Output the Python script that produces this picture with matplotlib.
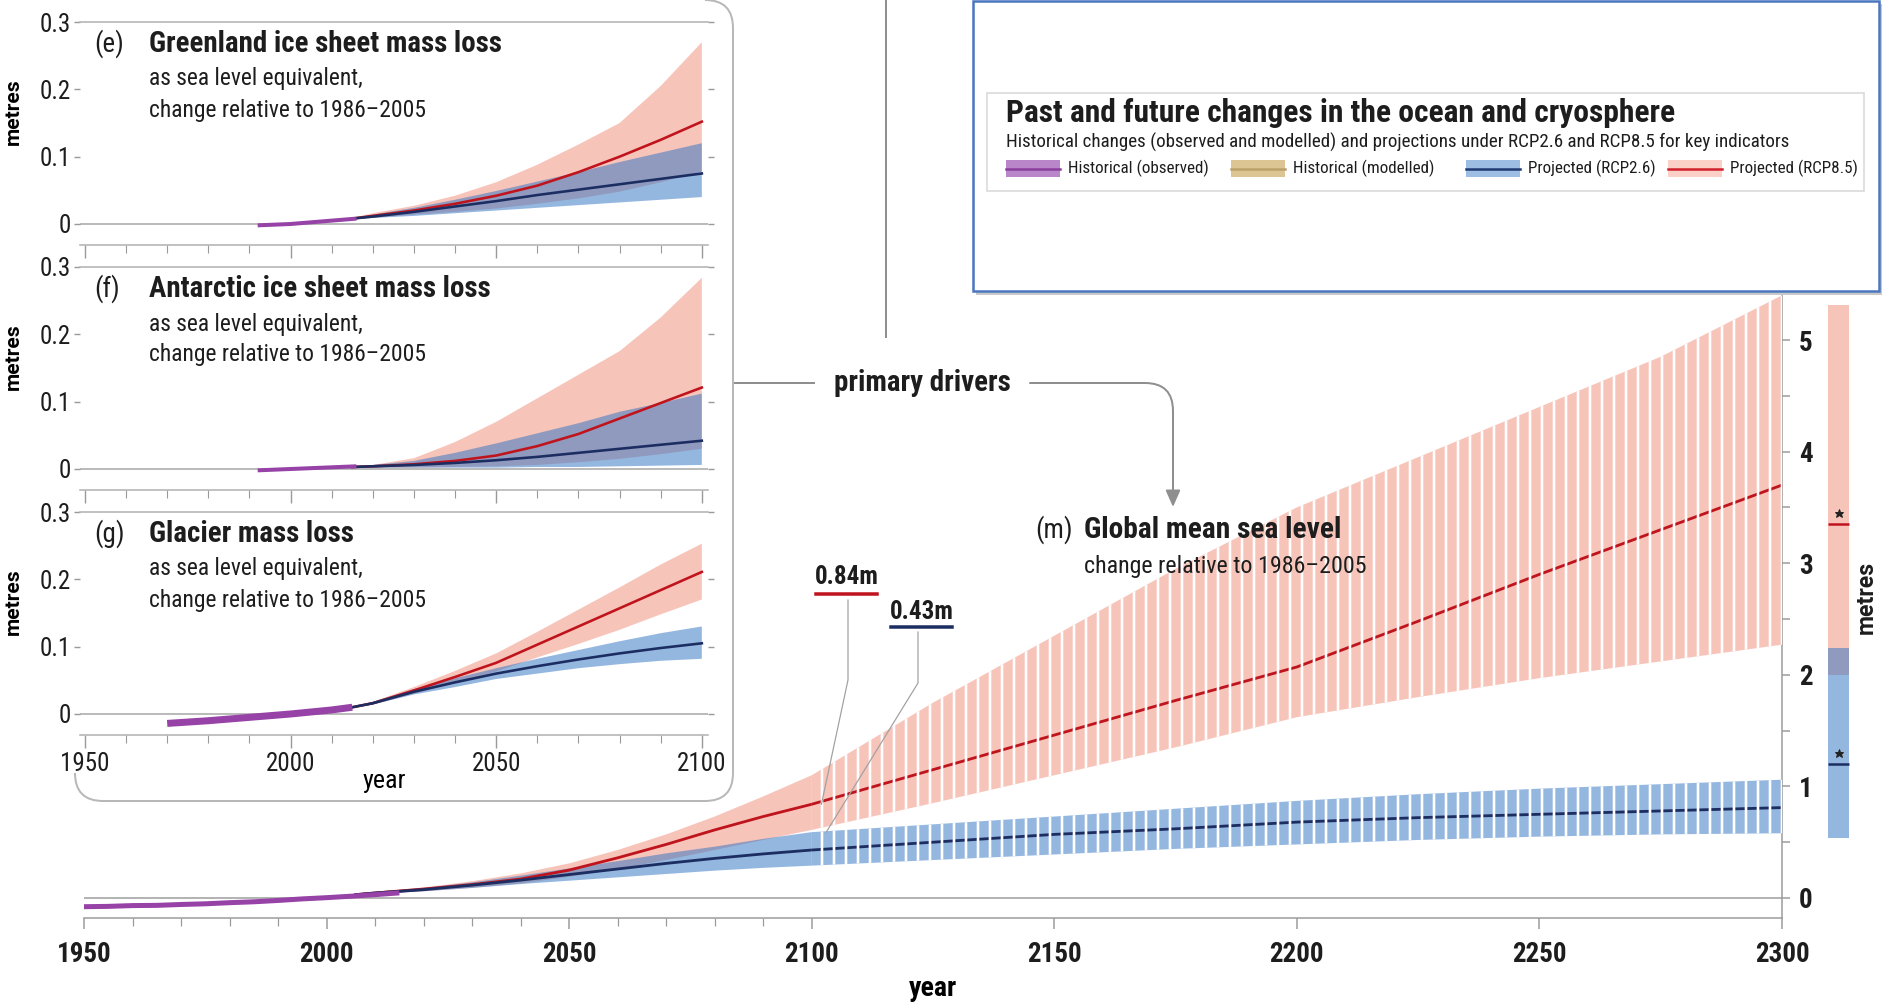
"""Sea level rise drivers and global mean sea level projections (RCP2.6 / RCP8.5)."""

import numpy as np
import matplotlib

matplotlib.use("Agg")
import matplotlib.pyplot as plt
from matplotlib import font_manager
from matplotlib.lines import Line2D
from matplotlib.patches import FancyArrowPatch, PathPatch, Rectangle
from matplotlib.path import Path
from matplotlib.ticker import FixedLocator, FuncFormatter
from matplotlib.transforms import IdentityTransform

W, H = 1883, 1006
DPI = 72  # 1 pt == 1 px, so sizes below are in pixels

# ---------------------------------------------------------------- data (metres)
# Insets (e)-(g): sea level equivalent of mass loss, change relative to 1986-2005
INSET_YEARS = [2015, 2020, 2030, 2040, 2050, 2060, 2070, 2080, 2090, 2100]

GREENLAND_OBS_YEARS = [1992, 2000, 2008, 2016]
GREENLAND_OBS = [-0.002, 0.0, 0.004, 0.008]
GREENLAND_R85 = [0.008, 0.012, 0.020, 0.030, 0.042, 0.057, 0.077, 0.100, 0.125, 0.152]
GREENLAND_R85_LO = [0.007, 0.009, 0.014, 0.018, 0.023, 0.030, 0.038, 0.048, 0.062, 0.078]
GREENLAND_R85_HI = [0.009, 0.016, 0.027, 0.042, 0.062, 0.088, 0.118, 0.150, 0.205, 0.270]
GREENLAND_R26 = [0.008, 0.011, 0.018, 0.026, 0.034, 0.043, 0.051, 0.059, 0.067, 0.075]
GREENLAND_R26_LO = [0.007, 0.009, 0.012, 0.016, 0.020, 0.024, 0.028, 0.032, 0.036, 0.040]
GREENLAND_R26_HI = [0.009, 0.014, 0.024, 0.036, 0.049, 0.063, 0.077, 0.092, 0.106, 0.120]

ANTARCTIC_OBS_YEARS = [1992, 2000, 2008, 2016]
ANTARCTIC_OBS = [-0.002, 0.0, 0.002, 0.004]
ANTARCTIC_R85 = [0.003, 0.004, 0.007, 0.012, 0.020, 0.034, 0.052, 0.075, 0.098, 0.121]
ANTARCTIC_R85_LO = [0.002, 0.002, 0.002, 0.003, 0.004, 0.006, 0.010, 0.015, 0.022, 0.030]
ANTARCTIC_R85_HI = [0.004, 0.006, 0.016, 0.040, 0.070, 0.105, 0.140, 0.175, 0.225, 0.284]
ANTARCTIC_R26 = [0.003, 0.004, 0.006, 0.009, 0.013, 0.018, 0.024, 0.030, 0.036, 0.042]
ANTARCTIC_R26_LO = [0.002, 0.002, 0.002, 0.002, 0.002, 0.003, 0.003, 0.004, 0.005, 0.006]
ANTARCTIC_R26_HI = [0.004, 0.006, 0.012, 0.024, 0.038, 0.053, 0.068, 0.085, 0.098, 0.112]

GLACIER_OBS_YEARS = [1970, 1980, 1990, 2000, 2010, 2015]
GLACIER_OBS = [-0.014, -0.010, -0.005, 0.0, 0.006, 0.010]
GLACIER_R85 = [0.010, 0.016, 0.035, 0.055, 0.076, 0.103, 0.130, 0.157, 0.184, 0.211]
GLACIER_R85_LO = [0.009, 0.014, 0.030, 0.046, 0.063, 0.084, 0.104, 0.125, 0.148, 0.170]
GLACIER_R85_HI = [0.011, 0.018, 0.040, 0.064, 0.090, 0.122, 0.155, 0.188, 0.222, 0.253]
GLACIER_R26 = [0.010, 0.016, 0.033, 0.047, 0.060, 0.071, 0.081, 0.090, 0.098, 0.105]
GLACIER_R26_LO = [0.009, 0.014, 0.029, 0.040, 0.052, 0.060, 0.068, 0.074, 0.079, 0.082]
GLACIER_R26_HI = [0.011, 0.018, 0.037, 0.053, 0.068, 0.082, 0.095, 0.108, 0.120, 0.130]

# Panel (m): global mean sea level
GMSL_OBS_YEARS = [1950, 1955, 1960, 1965, 1970, 1975, 1980, 1985, 1990, 1995, 2000, 2005, 2010, 2015]
GMSL_OBS = [-0.078, -0.075, -0.068, -0.066, -0.058, -0.052, -0.042, -0.034, -0.022, -0.008,
            0.003, 0.016, 0.030, 0.046]
GMSL_YEARS = [2006, 2010, 2020, 2030, 2040, 2050, 2060, 2070, 2080, 2090, 2100,
              2125, 2150, 2175, 2200, 2225, 2250, 2275, 2300]
GMSL_R85 = [0.03, 0.045, 0.08, 0.12, 0.17, 0.25, 0.36, 0.48, 0.61, 0.73, 0.84,
            1.15, 1.46, 1.77, 2.07, 2.48, 2.90, 3.30, 3.70]
GMSL_R85_LO = [0.02, 0.035, 0.06, 0.09, 0.13, 0.19, 0.26, 0.34, 0.43, 0.52, 0.61,
               0.85, 1.10, 1.35, 1.62, 1.80, 1.97, 2.12, 2.27]
GMSL_R85_HI = [0.04, 0.055, 0.095, 0.15, 0.22, 0.31, 0.43, 0.57, 0.73, 0.91, 1.10,
               1.75, 2.35, 2.95, 3.50, 3.95, 4.40, 4.85, 5.40]
GMSL_R26 = [0.03, 0.045, 0.075, 0.115, 0.16, 0.21, 0.26, 0.31, 0.355, 0.395, 0.43,
            0.50, 0.57, 0.62, 0.68, 0.72, 0.75, 0.78, 0.81]
GMSL_R26_LO = [0.02, 0.035, 0.06, 0.09, 0.125, 0.155, 0.185, 0.215, 0.245, 0.27, 0.29,
               0.34, 0.39, 0.44, 0.48, 0.52, 0.55, 0.57, 0.58]
GMSL_R26_HI = [0.04, 0.055, 0.09, 0.14, 0.20, 0.265, 0.33, 0.40, 0.46, 0.53, 0.59,
               0.66, 0.73, 0.80, 0.87, 0.93, 0.98, 1.02, 1.06]
BARS_FROM = 2100  # later years are drawn as a barred (hatched) band

# 2300 ranges shown in the side bar
SIDE_R85_RANGE = (2.0, 5.31)
SIDE_R26_RANGE = (0.54, 2.24)
SIDE_R85_MARK = 3.35
SIDE_R26_MARK = 1.20

LABEL_R85_2100 = 0.84
LABEL_R26_2100 = 0.43

INSET_LETTERS = ["(e)", "(f)", "(g)"]
INSET_TITLES = ["Greenland ice sheet mass loss", "Antarctic ice sheet mass loss", "Glacier mass loss"]
INSET_SUB = ["as sea level equivalent,", "change relative to 1986\u20132005"]

LEGEND_LABELS = ["Historical (observed)", "Historical (modelled)", "Projected (RCP2.6)", "Projected (RCP8.5)"]
LEGEND_FILLS = ["#b987c9", "#dcc593", "#9dbde3", "#fbd0c7"]
LEGEND_LINES = ["#8d3f9e", "#bca06a", "#1f3a73", "#d0202c"]

# ---------------------------------------------------------------- style
PINK = (0.94, 0.52, 0.44, 0.48)
SKY = (0.20, 0.46, 0.77, 0.52)
RED = "#c0141d"
NAVY = "#1c2d62"
PURPLE = "#9642a6"
AXIS_GREY = "#9a9a9a"
ZERO_GREY = "#b4b4b4"
TEXT = "#1d1d1d"

_names = {f.name for f in font_manager.fontManager.ttflist}
FONT = next((n for n in ("Roboto Condensed", "Liberation Sans Narrow", "DejaVu Sans Condensed")
             if n in _names), "Liberation Sans")
FS = {"Roboto Condensed": 1.0, "Liberation Sans Narrow": 1.05}.get(FONT, 0.86)
WIDE = ["Roboto", "Lato", "DejaVu Sans"]  # normal-width face for the 'metres' labels
plt.rcParams["font.family"] = [FONT, "DejaVu Sans"]
plt.rcParams["hatch.linewidth"] = 2.6
plt.rcParams["hatch.color"] = "white"
plt.rcParams["text.color"] = TEXT
plt.rcParams["xtick.color"] = AXIS_GREY
plt.rcParams["ytick.color"] = AXIS_GREY
plt.rcParams["xtick.labelcolor"] = TEXT
plt.rcParams["ytick.labelcolor"] = TEXT


def fx(x):
    return x / W


def fy(y):
    return 1 - y / H


def dp(x, y):
    """Top-left pixel position -> display coordinates."""
    return (x, H - y)


fig = plt.figure(figsize=(W / DPI, H / DPI), dpi=DPI)
fig.patch.set_facecolor("white")

# ---------------------------------------------------------------- panel (m)
M_LEFT, M_RIGHT, M_TOP, M_BOT, M_ZERO, M_PX = 84, 1782, 292, 918, 898, 111.6
ax = fig.add_axes([fx(M_LEFT), fy(M_BOT), (M_RIGHT - M_LEFT) / W, (M_BOT - M_TOP) / H])
ax.patch.set_alpha(0)
ax.set_xlim(1950, 2300)
ax.set_ylim(-(M_BOT - M_ZERO) / M_PX, (M_ZERO - M_TOP) / M_PX)

yrs = np.array(GMSL_YEARS)
post = yrs >= BARS_FROM
bands = [
    (np.array(GMSL_R85_LO), np.array(GMSL_R85_HI), PINK),
    (np.array(GMSL_R26_LO), np.array(GMSL_R26_HI), SKY),
]
for lo, hi, col in bands:
    ax.fill_between(yrs, lo, hi, facecolor=col, linewidth=0, zorder=1)
ax.plot(yrs, GMSL_R85, color=RED, lw=2.8, zorder=2)
ax.plot(yrs, GMSL_R26, color=NAVY, lw=2.8, zorder=2)
for lo, hi, _ in bands:
    ax.fill_between(yrs[post], lo[post], hi[post], facecolor=(1, 1, 1, 0), edgecolor="white",
                    hatch="|", linewidth=0, zorder=3)
ax.plot(GMSL_OBS_YEARS, GMSL_OBS, color=PURPLE, lw=5, solid_capstyle="butt", zorder=4)
ax.axhline(0, color=ZERO_GREY, lw=2, zorder=0.5)

for s in ("left", "top"):
    ax.spines[s].set_visible(False)
for s in ("bottom", "right"):
    ax.spines[s].set_color(AXIS_GREY)
    ax.spines[s].set_linewidth(1.5)

ax.xaxis.set_major_locator(FixedLocator(range(1950, 2301, 50)))
ax.xaxis.set_minor_locator(FixedLocator([y for y in range(1960, 2100, 10) if y % 50]))
ax.tick_params(axis="x", which="major", length=11, width=1.5, pad=12, labelsize=27 * FS)
ax.tick_params(axis="x", which="minor", length=8, width=1.2)
ax.yaxis.tick_right()
ax.yaxis.set_major_locator(FixedLocator(range(0, 6)))
ax.yaxis.set_minor_locator(FixedLocator(np.arange(0.5, 5.5, 1.0)))
ax.tick_params(axis="y", which="both", length=8, width=1.5, pad=9, labelsize=27 * FS)
plt.setp(ax.get_xticklabels() + ax.get_yticklabels(), fontweight="bold")
ax.set_xlabel("year", fontsize=28 * FS, fontweight="bold", va="center")
ax.xaxis.set_label_coords(0.5, (M_BOT - 988) / (M_BOT - M_TOP))

# side bar with the 2300 ranges
px_per_year = (M_RIGHT - M_LEFT) / 350
side_x = 2300 + (1838.5 - M_RIGHT) / px_per_year
side_w = 21 / px_per_year
for (lo, hi), col in ((SIDE_R85_RANGE, PINK), (SIDE_R26_RANGE, SKY)):
    ax.bar(side_x, hi - lo, bottom=lo, width=side_w, color=col, linewidth=0, clip_on=False, zorder=1)
for val, col in ((SIDE_R85_MARK, RED), (SIDE_R26_MARK, NAVY)):
    ax.hlines(val, side_x - side_w / 2, side_x + side_w / 2, color=col, lw=2.5, clip_on=False, zorder=2)
    ax.plot(side_x, val + 0.1, marker="*", ms=9, color="#222222", clip_on=False, zorder=3)
fig.text(fx(1866), fy(597), "metres", rotation=90, ha="center", va="center",
         fontsize=23, fontweight="bold", family=WIDE)

# panel (m) title
fig.text(fx(1035), fy(530), "(m)", ha="left", va="center", fontsize=27 * FS)
fig.text(fx(1084), fy(530), "Global mean sea level", ha="left", va="center",
         fontsize=29.5 * FS, fontweight="bold")
fig.text(fx(1084), fy(566), "change relative to 1986\u20132005", ha="left", va="center",
         fontsize=24 * FS)

# 2100 value call-outs with leaders
callouts = [
    (f"{LABEL_R85_2100:.2f}m", (847, 577), (816, 877, 594), RED, [(848, 600), (848, 680)],
     (2102, LABEL_R85_2100)),
    (f"{LABEL_R26_2100:.2f}m", (922, 612), (891, 952, 627), NAVY, [(918, 632), (918, 683)],
     (2103, GMSL_R26_HI[GMSL_YEARS.index(2100)])),
]
for text, (tx, ty), (ux0, ux1, uy), col, knee, target in callouts:
    fig.text(fx(tx), fy(ty), text, ha="center", va="center", fontsize=25 * FS, fontweight="bold")
    fig.add_artist(Line2D([ux0, ux1], [H - uy, H - uy], color=col, lw=3.5,
                          transform=IdentityTransform()))
    ex, ey = ax.transData.transform(target)
    xs = [p[0] for p in knee] + [ex]
    ys = [H - p[1] for p in knee] + [ey]
    fig.add_artist(Line2D(xs, ys, color="#a0a0a0", lw=1.2, transform=IdentityTransform(), zorder=5))

# ---------------------------------------------------------------- insets (e)-(g)
insets = [
    (GREENLAND_OBS_YEARS, GREENLAND_OBS, GREENLAND_R85, GREENLAND_R85_LO, GREENLAND_R85_HI,
     GREENLAND_R26, GREENLAND_R26_LO, GREENLAND_R26_HI),
    (ANTARCTIC_OBS_YEARS, ANTARCTIC_OBS, ANTARCTIC_R85, ANTARCTIC_R85_LO, ANTARCTIC_R85_HI,
     ANTARCTIC_R26, ANTARCTIC_R26_LO, ANTARCTIC_R26_HI),
    (GLACIER_OBS_YEARS, GLACIER_OBS, GLACIER_R85, GLACIER_R85_LO, GLACIER_R85_HI,
     GLACIER_R26, GLACIER_R26_LO, GLACIER_R26_HI),
]
I_LEFT, I_RIGHT, I_PITCH, I_HEIGHT = 80, 708, 245, 223
for i, (oy, ov, r, rlo, rhi, b, blo, bhi) in enumerate(insets):
    top = 22 + I_PITCH * i
    iax = fig.add_axes([fx(I_LEFT), fy(top + I_HEIGHT), (I_RIGHT - I_LEFT) / W, I_HEIGHT / H])
    iax.patch.set_alpha(0)
    iax.set_xlim(1948.8, 2101.5)
    iax.set_ylim(-0.0312, 0.3)
    iax.fill_between(INSET_YEARS, rlo, rhi, facecolor=PINK, linewidth=0, zorder=1)
    iax.fill_between(INSET_YEARS, blo, bhi, facecolor=SKY, linewidth=0, zorder=1)
    iax.plot(INSET_YEARS, r, color=RED, lw=2.6, zorder=2)
    iax.plot(INSET_YEARS, b, color=NAVY, lw=2.6, zorder=2)
    iax.plot(oy, ov, color=PURPLE, lw=7 if i == 2 else 4, solid_capstyle="butt", zorder=3)
    iax.axhline(0, color=ZERO_GREY, lw=1.8, zorder=0.5)

    for s in ("left", "right"):
        iax.spines[s].set_visible(False)
    for s in ("top", "bottom"):
        iax.spines[s].set_color(ZERO_GREY)
        iax.spines[s].set_linewidth(1.6)
    iax.xaxis.set_major_locator(FixedLocator([1950, 2000, 2050, 2100]))
    iax.xaxis.set_minor_locator(FixedLocator([y for y in range(1960, 2100, 10) if y % 50]))
    iax.tick_params(axis="x", which="major", length=13, width=1.4, pad=4, labelsize=25 * FS,
                    labelbottom=(i == 2))
    iax.tick_params(axis="x", which="minor", length=8, width=1.1)
    iax.yaxis.set_major_locator(FixedLocator([0, 0.1, 0.2, 0.3]))
    iax.yaxis.set_major_formatter(FuncFormatter(lambda v, _: "0" if v == 0 else f"{v:.1f}"))
    iax.tick_params(axis="y", length=6, width=1.4, pad=3, labelsize=25 * FS, right=True)
    iax.set_ylabel("metres", fontsize=21, fontweight="bold", family=WIDE)
    iax.yaxis.set_label_coords((23 - I_LEFT) / (I_RIGHT - I_LEFT), 0.6)
    if i == 2:
        iax.set_xlabel("year", fontsize=26 * FS, va="center")
        iax.xaxis.set_label_coords((384 - I_LEFT) / (I_RIGHT - I_LEFT), (I_HEIGHT - 781 + top) / I_HEIGHT)

    fig.text(fx(94), fy(top + 22), INSET_LETTERS[i], ha="left", va="center", fontsize=27 * FS)
    fig.text(fx(149), fy(top + 22), INSET_TITLES[i], ha="left", va="center",
             fontsize=29 * FS, fontweight="bold")
    fig.text(fx(149), fy(top + 57), INSET_SUB[0], ha="left", va="center", fontsize=23.5 * FS)
    fig.text(fx(149), fy(top + 88), INSET_SUB[1], ha="left", va="center", fontsize=23.5 * FS)

# rounded frame around the insets (only its lower part and right side are in view)
R = 28
frame = Path(
    [dp(75, 776), dp(75, 801 - R), dp(75, 801), dp(75 + R, 801), dp(733 - R, 801), dp(733, 801),
     dp(733, 801 - R), dp(733, R), dp(733, 0), dp(733 - R, 0)],
    [Path.MOVETO, Path.LINETO, Path.CURVE3, Path.CURVE3, Path.LINETO, Path.CURVE3, Path.CURVE3,
     Path.LINETO, Path.CURVE3, Path.CURVE3],
)
fig.add_artist(PathPatch(frame, facecolor="none", edgecolor="#b8b8b8", lw=2,
                         transform=IdentityTransform()))

# ---------------------------------------------------------------- connectors
CONN = "#8f8f8f"
fig.add_artist(Line2D([886, 886], [H - 0, H - 337], color=CONN, lw=2, transform=IdentityTransform()))
fig.add_artist(Line2D([735, 814], [H - 383, H - 383], color=CONN, lw=2, transform=IdentityTransform()))
fig.text(fx(922), fy(383), "primary drivers", ha="center", va="center", fontsize=29 * FS,
         fontweight="bold")
arrow_path = Path(
    [dp(1030, 383), dp(1145, 383), dp(1173, 383), dp(1173, 411), dp(1173, 507)],
    [Path.MOVETO, Path.LINETO, Path.CURVE3, Path.CURVE3, Path.LINETO],
)
fig.add_artist(FancyArrowPatch(path=arrow_path, arrowstyle="-|>,head_length=0.5,head_width=0.22",
                               mutation_scale=28, color=CONN, lw=2, transform=IdentityTransform()))

# ---------------------------------------------------------------- key box
fig.add_artist(Rectangle((976, H - 295), 906, 291, facecolor="#c9c9c9", edgecolor="none",
                         transform=IdentityTransform()))
fig.add_artist(Rectangle((973, H - 291), 906, 290, facecolor="white", edgecolor="#4a77c0",
                         lw=2.5, transform=IdentityTransform()))
fig.add_artist(Rectangle((987, H - 191), 877, 98, facecolor="none", edgecolor="#d6d6d6",
                         lw=1.5, transform=IdentityTransform()))
fig.text(fx(1006), fy(113), "Past and future changes in the ocean and cryosphere", ha="left",
         va="center", fontsize=31.5 * FS, fontweight="bold")
fig.text(fx(1006), fy(142), "Historical changes (observed and modelled) and projections under "
         "RCP2.6 and RCP8.5 for key indicators", ha="left", va="center", fontsize=19 * FS)
for x0, label, fill, line in zip([1006, 1231, 1466, 1668], LEGEND_LABELS, LEGEND_FILLS, LEGEND_LINES):
    fig.add_artist(Rectangle((x0, H - 177), 54, 17, facecolor=fill, edgecolor="none",
                             transform=IdentityTransform()))
    fig.add_artist(Line2D([x0, x0 + 54], [H - 168.5] * 2, color=line, lw=2.5,
                          transform=IdentityTransform()))
    fig.text(fx(x0 + 62), fy(168), label, ha="left", va="center", fontsize=17 * FS)

fig.savefig("out.png", dpi=DPI, facecolor="white")
